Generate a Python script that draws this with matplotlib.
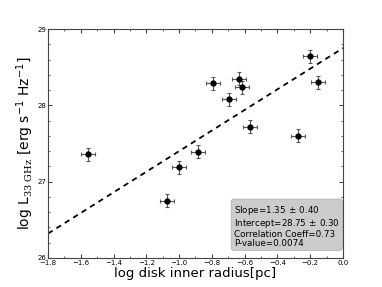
import numpy as np
import matplotlib.pyplot as plt
from matplotlib.ticker import MultipleLocator

# -------------------------------
# Data
# -------------------------------
log_radius = [-1.558, -1.076, -1.001, -0.883, -0.795, -0.637, -0.618,
              -0.697, -0.568, -0.273, -0.203, -0.153]
log_lum = [27.36, 26.75, 27.19, 27.39, 28.29, 28.35, 28.24,
           28.08, 27.72, 27.60, 28.64, 28.30]
x_err = [0.043] * 12
y_err = [0.085] * 12

slope = 1.35
intercept = 28.75
fit_x = [-1.8, 0.0]

stats_text = ("Slope=1.35$\\,\\pm\\,$0.40\n"
              "Intercept=28.75$\\,\\pm\\,$0.30\n"
              "Correlation Coeff=0.73\n"
              "P-value=0.0074")

# -------------------------------
# Plot
# -------------------------------
plt.rcParams['mathtext.fontset'] = 'custom'
plt.rcParams['mathtext.rm'] = 'DejaVu Serif'
plt.rcParams['mathtext.sf'] = 'DejaVu Sans'
plt.rcParams['mathtext.it'] = 'DejaVu Sans:italic'
plt.rcParams['mathtext.bf'] = 'DejaVu Sans:bold'

fig = plt.figure(figsize=(3.82, 2.87), dpi=100)
ax = fig.add_axes([48 / 382, 1 - 258 / 287, 295 / 382, 229 / 287])

ax.errorbar(log_radius, log_lum, xerr=x_err, yerr=y_err, fmt='o',
            color='black', ecolor='#555555', elinewidth=0.8, capsize=1.5,
            capthick=0.8, markersize=3.5, zorder=3)

fit_y = [slope * x + intercept for x in fit_x]
ax.plot(fit_x, fit_y, 'k--', linewidth=1.3, dashes=(3, 2.5))

ax.set_xlim(-1.8, 0.0)
ax.set_ylim(26, 29)
ax.xaxis.set_major_locator(MultipleLocator(0.2))
ax.xaxis.set_minor_locator(MultipleLocator(0.1))
ax.yaxis.set_major_locator(MultipleLocator(1))
ax.yaxis.set_minor_locator(MultipleLocator(0.2))
ax.tick_params(which='both', direction='in', top=True, right=True,
               labelsize=5, color='#444444', pad=1.5)
ax.tick_params(which='major', length=3)
ax.tick_params(which='minor', length=1.5)
for s in ax.spines.values():
    s.set_color('#444444')

ax.set_xlabel("log disk inner radius[pc]", fontsize=9.5, labelpad=1)
ax.set_ylabel("log L$_{\\mathrm{33\\ GHz}}$ [erg s$^{\\mathsf{-1}}$ Hz$^{\\mathsf{-1}}$]",
              fontsize=10, labelpad=1)

ax.text(0.63, 0.045, stats_text, transform=ax.transAxes, fontsize=6.3,
        va='bottom', ha='left', linespacing=1.0,
        bbox=dict(boxstyle='round,pad=0.3', facecolor='#cccccc',
                  edgecolor='#aaaaaa', linewidth=0.5))

plt.savefig("out.png", dpi=100)
